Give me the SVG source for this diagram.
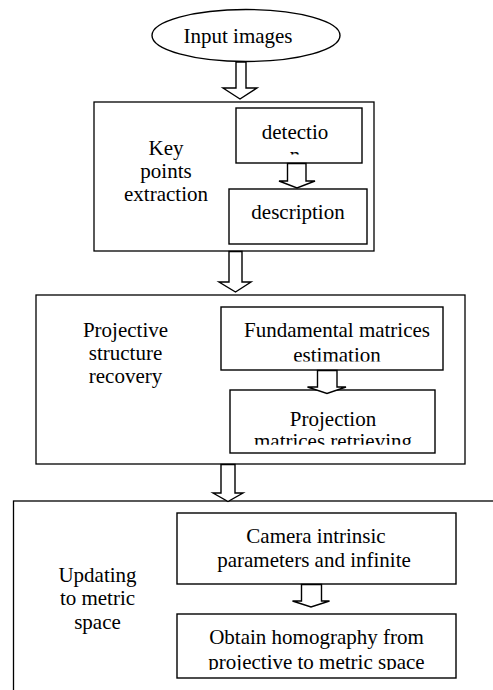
<svg xmlns="http://www.w3.org/2000/svg" width="493" height="690" viewBox="0 0 493 690">
<style>
.box{fill:#fff;stroke:#000;stroke-width:1.4}
.outer{fill:#fff;stroke:#000;stroke-width:1.3}
.arr{fill:#fff;stroke:#000;stroke-width:1.4;stroke-linejoin:miter}
</style>
<defs>
<clipPath id="cDet"><rect x="236" y="108" width="126" height="46.5"/></clipPath>
<clipPath id="cFun"><rect x="221" y="307" width="222" height="54.5"/></clipPath>
<clipPath id="cProj"><rect x="230" y="390" width="205" height="54.8"/></clipPath>
<clipPath id="cObt"><rect x="177" y="614" width="279" height="56"/></clipPath>
</defs>
<rect width="493" height="690" fill="#fff"/>
<g font-family="Liberation Serif, DejaVu Serif, serif" font-size="21" text-anchor="middle" fill="#000">
<g id="input">
<ellipse cx="246" cy="35.5" rx="94" ry="26" class="box"/>
<text x="238" y="43">Input images</text>
</g>
<g id="keypoints">
<rect x="94" y="102" width="280" height="149" class="outer"/>
<text x="166" y="155">Key</text>
<text x="166" y="177.5">points</text>
<text x="166" y="200.5">extraction</text>
</g>
<g id="detection">
<rect x="236" y="108" width="126" height="55" class="box"/>
<g clip-path="url(#cDet)">
<text x="295" y="138.5">detectio</text>
<text x="295" y="161.5">n</text>
</g>
</g>
<g id="description">
<rect x="229" y="189" width="138" height="55" class="box"/>
<text x="298" y="218.5">description</text>
</g>
<g id="projective">
<rect x="36" y="295" width="429" height="169" class="outer"/>
<text x="125.5" y="337">Projective</text>
<text x="125.5" y="360">structure</text>
<text x="125.5" y="383">recovery</text>
</g>
<g id="fundamental">
<rect x="221" y="307" width="222" height="63" class="box"/>
<g clip-path="url(#cFun)">
<text x="337" y="337.3">Fundamental matrices</text>
<text x="337" y="361.5">estimation</text>
</g>
</g>
<g id="projection">
<rect x="230" y="390" width="205" height="63" class="box"/>
<g clip-path="url(#cProj)">
<text x="333" y="426">Projection</text>
<text x="333" y="447.5">matrices retrieving</text>
</g>
</g>
<g id="metric">
<rect x="13.5" y="501" width="500" height="200" class="outer"/>
<text x="97.5" y="581.5">Updating</text>
<text x="97.5" y="605">to metric</text>
<text x="97.5" y="628.5">space</text>
</g>
<g id="camera">
<rect x="177" y="513" width="279" height="71" class="box"/>
<text x="316" y="542.7">Camera intrinsic</text>
<text x="314" y="567">parameters and infinite</text>
</g>
<g id="homography">
<rect x="177" y="614" width="279" height="64" class="box"/>
<g clip-path="url(#cObt)">
<text x="316.5" y="644">Obtain homography from</text>
<text x="316.5" y="669">projective to metric space</text>
</g>
</g>
</g>
<g id="connectors">
<polygon class="arr" points="236,62 246,62 246,88 257,88 240,99 223,88 236,88"/>
<polygon class="arr" points="229,251.5 242,251.5 242,282 251,282 235.5,292 219,282 229,282"/>
<polygon class="arr" points="221,464.5 235,464.5 235,493 243,493 228,501.5 213,493 221,493"/>
<polygon class="arr" points="287.5,163.5 306,163.5 306,181 315,181 297,188 279,181 287.5,181"/>
<polygon class="arr" points="317.5,370.5 337,370.5 337,387 346,387 327,393.5 307.5,387 317.5,387"/>
<polygon class="arr" points="301.5,584.5 321.5,584.5 321.5,601 329.5,601 311,607 292.5,601 301.5,601"/>
</g>
</svg>
